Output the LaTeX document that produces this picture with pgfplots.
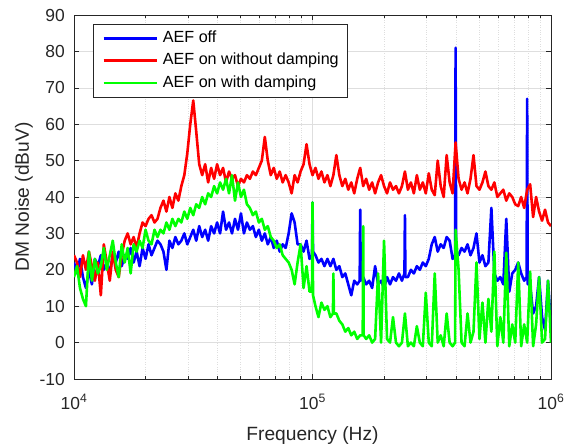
\documentclass[border=0pt]{standalone}
\usepackage{fontspec}
\setmainfont{Liberation Sans}
\usepackage{pgfplots}
\pgfplotsset{compat=1.18}
\definecolor{axgray}{gray}{0.15}
\definecolor{gridgray}{gray}{0.87}
\begin{document}
\begin{tikzpicture}
\path[use as bounding box] (-74bp,-68bp) rectangle (498bp,379bp);
\begin{semilogxaxis}[
    at={(0,0)}, anchor=south west,
    scale only axis, width=477bp, height=364bp,
    xmin=1e4, xmax=1e6, ymin=-10, ymax=90,
    ytick={-10,0,...,90},
    yticklabels={-10,0,10,20,30,40,50,60,70,80,90},
    xtick={1e4,1e5,1e6},
    xticklabels={10\textsuperscript{4},10\textsuperscript{5},10\textsuperscript{6}},
    minor xtick={2e4,3e4,4e4,5e4,6e4,7e4,8e4,9e4,2e5,3e5,4e5,5e5,6e5,7e5,8e5,9e5},
    xmajorgrids, xminorgrids, ymajorgrids,
    major grid style={gridgray, line width=0.6bp},
    minor grid style={gridgray, dotted, line width=0.6bp},
    tick align=inside, major tick length=5bp, minor tick length=3bp,
    every tick/.style={axgray, line width=0.6bp},
    axis line style={axgray, line width=0.8bp},
    tick label style={font=\fontsize{17.5}{20}\selectfont, text=axgray},
    yticklabel style={anchor=east, inner sep=0pt, xshift=-9bp},
    xticklabel style={anchor=base, inner sep=0pt, yshift=-30bp},
    xlabel={Frequency (Hz)}, ylabel={DM Noise (dBuV)},
    label style={font=\fontsize{19.25}{22}\selectfont, text=axgray},
    xlabel style={at={(axis description cs:0.5,-0.181)}, anchor=south, inner sep=0pt},
    ylabel style={at={(axis description cs:-0.086,0.5)}, anchor=south, inner sep=0pt},
    legend cell align=left,
    legend image code/.code={\draw[#1] (0bp,0bp) -- (53bp,0bp);},
    legend style={at={(axis description cs:0.0398,0.9753)}, anchor=north west,
        draw=axgray, line width=0.6bp, fill=white,
        inner xsep=9bp, inner ysep=6.5bp,
        font=\fontsize{16.2}{18}\selectfont,
        nodes={inner sep=0pt, text height=12bp, text depth=3.5bp},
        row sep=6.7bp, column sep=5bp},
]
% AEF off
\addplot[blue, line width=2.6bp, line join=round] coordinates {
(10000,22)(10292,19)(10593,23)(10901,18)(11220,15)(11548,20)(11885,16)(12232,23)(12589,21)(12957,24)
(13335,20)(13725,22)(14125,19)(14538,24)(14962,22)(15400,25)(15849,21)(16313,24)(16788,23)(17280,26)
(17783,22)(18303,25)(18836,21)(19387,26)(19953,23)(20535,27)(21135,24)(21752,26)(22387,28)(23041,27)
(23714,25)(24406,20)(25119,28)(25852,26)(26607,29)(27384,27)(28184,28)(29007,30)(29854,27)(30726,29)
(31623,31)(32546,28)(33497,32)(34475,29)(35481,31)(36517,28)(37584,32)(38681,30)(39811,33)(40973,30)
(42170,36)(43401,31)(44668,33)(45973,30)(47315,34)(48697,31)(50119,35.5)(51582,30)(53088,33)(54639,31)
(56234,32)(57876,29)(59566,31)(61306,28)(63096,30)(64938,27)(66834,29)(68786,26)(70795,28)(72862,25)
(74989,27)(77179,26)(79433,30)(81752,35.5)(84140,33)(86596,27)(89125,27)(91728,25)(94406,28)(97163,23)
(99500,24)(100000,38.5)(100500,25)(102920,24)(105930,22)(109010,23)(112200,21)(115480,23)(118850,21)(122320,23)
(125890,20)(129570,21)(133350,18)(137250,19)(141250,16)(145380,13)(149620,17)(154000,16)(157700,17)(158490,36.5)
(159300,17)(163130,18)(167880,16)(172800,17)(177830,15)(183030,21)(188360,16)(193870,17)(199530,15)(205350,18)
(211350,16)(217520,18)(223870,17)(230410,19)(237140,17)(242900,19)(244060,35)(245200,18)(251190,18)(258520,20)
(266070,19)(273840,21)(281840,20)(290070,22)(298540,21)(307260,23)(316230,27)(325460,29)(334970,25)(344750,27)
(354810,26)(365170,29)(375840,28)(386810,23)(396100,24)(398110,81)(400100,24)(409730,24)(421700,26)(434010,25)
(446680,27)(459730,24)(473150,26)(486970,30)(501190,22)(515820,24)(530880,21)(546390,22)(562340,37)(578760,19)
(595660,17)(613060,18)(630960,16)(649380,34)(668340,14)(687860,19)(707950,20)(728620,22)(749890,19)(771790,17)
(790400,18)(794330,67)(798300,16)(817520,16)(841400,8)(865960,10)(891250,18)(917280,7)(944060,3.5)(971630,17)
(1000000,4)
};
\addlegendentry{AEF off}
% AEF on without damping
\addplot[red, line width=2.6bp, line join=round] coordinates {
(10000,24)(10292,22)(10593,18)(10901,24)(11220,20)(11548,25)(11885,21)(12232,17)(12589,22)(12957,13)
(13335,27)(13725,22)(14125,17)(14538,25)(14962,20)(15400,18)(15849,24)(16313,28)(16788,30)(17280,27)
(17783,29)(18303,26)(18836,30)(19387,33)(19953,32)(20535,34)(21135,35)(21752,33)(22387,34)(23041,37)
(23714,39)(24406,36)(25119,40)(25852,37)(26607,41)(27384,39)(28184,43)(29007,46)(29854,52)(30726,60)
(31623,66.5)(32546,58)(33497,49)(34475,46)(35481,49)(36517,44)(37584,48)(38681,45)(39811,49)(40973,46)
(42170,48)(43401,44)(44668,47)(45973,45)(47315,46)(48697,43)(50119,45)(51582,44)(53088,46)(54639,45)
(56234,47)(57876,46)(59566,48)(61306,50)(63096,56.5)(64938,50)(66834,46)(68786,48)(70795,45)(72862,47)
(74989,44)(77179,46)(79433,44)(81752,41)(84140,46)(86596,44)(89125,47)(91728,49)(94406,54.5)(97163,49)
(100000,46)(102920,48)(105930,45)(109010,47)(112200,44)(115480,46)(118850,43)(122320,46)(125890,51.5)(129570,46)
(133350,43)(137250,45)(141250,42)(145380,44)(149620,41)(154000,45)(158490,48)(163130,43)(167880,45)(172800,42)
(177830,44)(183030,41)(188360,44)(193870,46)(199530,43)(205350,41)(211350,44)(217520,42)(223870,43)(230410,41)
(237140,43)(244060,47)(251190,42)(258520,44)(266070,41)(273840,46)(281840,42)(290070,44)(298540,41)(307260,46.5)
(316230,42)(325460,40.5)(334970,50)(344750,43)(354810,40)(365170,51.5)(375840,44)(386810,41)(398110,55)(409730,45)
(421700,42)(434010,44)(446680,41)(459730,45)(473150,51.5)(486970,43)(501190,42)(515820,44)(530880,47)(546390,43)
(562340,42)(578760,44)(595660,40)(613060,41)(630960,42)(649380,39)(668340,41)(687860,40)(707950,38)(728620,37.5)
(749890,40)(771790,37)(794330,42)(817520,43.5)(841400,34.5)(865960,40)(891250,36)(917280,33.5)(944060,36.5)(971630,33)
(1000000,32)
};
\addlegendentry{AEF on without damping}
% AEF on with damping
\addplot[green, line width=2.6bp, line join=round] coordinates {
(10000,18)(10292,21)(10593,15)(10901,12)(11220,10)(11548,25)(11885,17)(12232,23)(12589,19)(12957,21)
(13335,26)(13725,20)(14125,24)(14538,28)(14962,22)(15400,18)(15849,27)(16313,22)(16788,26)(17280,19)
(17783,27)(18303,25)(18836,28)(19387,26)(19953,31)(20535,28)(21135,27)(21752,31)(22387,29)(23041,31)
(23714,30)(24406,33)(25119,31)(25852,34)(26607,32)(27384,34)(28184,33)(29007,36)(29854,34)(30726,37)
(31623,35)(32546,38)(33497,37)(34475,40)(35481,38)(36517,41)(37584,40)(38681,43)(39811,41)(40973,44)
(42170,42)(43401,45)(44668,41)(45973,46)(47315,39)(48697,44)(50119,40)(51582,42)(53088,38)(54639,37)
(56234,35)(57876,36)(59566,33)(61306,34)(63096,31)(64938,32)(66834,29)(68786,28)(70795,26)(72862,27)
(74989,24)(77179,23)(79433,22)(81752,20)(84140,16)(86596,22)(89125,27)(91728,15)(94406,21)(97163,14)
(99500,14)(100000,38.5)(100500,13)(102920,10)(105930,7)(109010,11)(112200,9)(115480,10)(118850,7)(121800,8)
(122320,19)(122900,8)(125890,8)(129570,6)(133350,5)(137250,3)(141250,4)(145380,2)(149620,3)(154000,1)
(158490,2)(162400,2)(163130,32)(163900,2)(167880,1)(172800,2)(177830,0)(183030,1)(188360,19)(193870,0)
(199530,28)(205350,1)(211350,0)(217520,7)(223870,0)(230410,-1)(237140,0)(244060,8)(251190,-1)(258520,0)
(266070,-1)(273840,4.5)(281840,0)(290070,-1)(298540,13.7)(307260,0)(316230,-1)(325460,19)(334970,0)(344750,2)
(354810,-1)(365170,8)(375840,0)(386810,-1)(396100,0)(398110,31)(409730,20)(421700,0)(434010,-1)(446680,8)
(459730,0)(473150,3)(486970,22)(501190,1)(515820,11)(530880,0)(546390,12)(562340,3)(578760,25)(595660,-1)
(613060,7)(630960,0)(649380,24.7)(668340,-1)(687860,5)(707950,0)(728620,22)(749890,-1)(771790,5)(794330,0)
(817520,19.5)(841400,-1)(865960,5)(891250,18)(917280,0)(944060,1)(971630,17)(1000000,0)
};
\addlegendentry{AEF on with damping}
\end{semilogxaxis}
\end{tikzpicture}
\end{document}
